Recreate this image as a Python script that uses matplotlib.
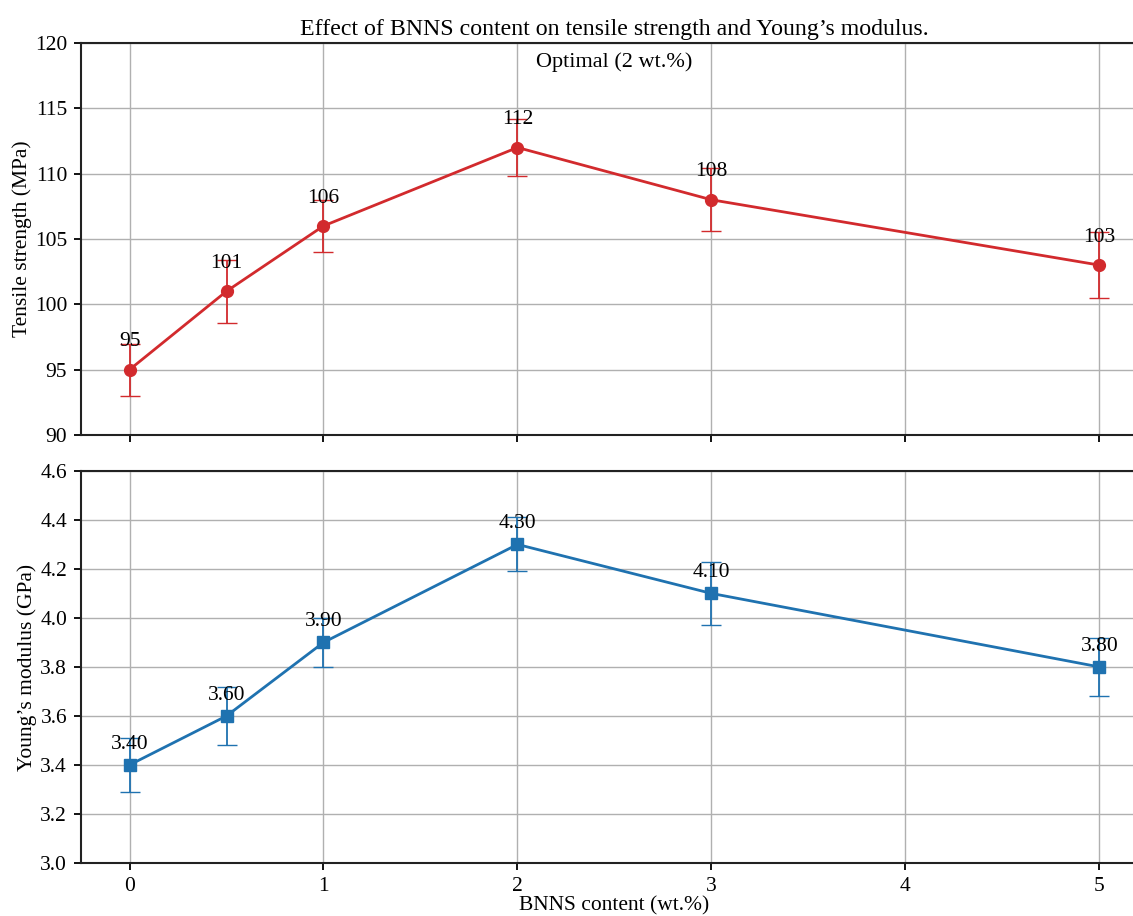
import matplotlib
matplotlib.use("Agg")
import matplotlib.pyplot as plt

plt.rcParams['font.family'] = ['Liberation Serif', 'DejaVu Serif']
plt.rcParams['font.size'] = 15.5

# BNNS loading (wt.%)
content = [0, 0.5, 1, 2, 3, 5]

# tensile strength (MPa) and its spread
strength = [95, 101, 106, 112, 108, 103]
strength_err = [2.0, 2.4, 2.0, 2.2, 2.4, 2.5]

# Young's modulus (GPa) and its spread
modulus = [3.40, 3.60, 3.90, 4.30, 4.10, 3.80]
modulus_err = [0.11, 0.12, 0.10, 0.11, 0.13, 0.12]

red = '#d22a2d'
blue = '#1f72b0'

fig = plt.figure(figsize=(11.33, 9.16), dpi=100)
ax1 = fig.add_axes([0.0715, 0.5251, 0.9417, 0.428])
ax2 = fig.add_axes([0.0715, 0.0579, 0.9417, 0.428], sharex=ax1)

for ax in (ax1, ax2):
    ax.grid(True, color='#b0b0b0', linewidth=1.0)
    ax.set_axisbelow(True)
    for s in ax.spines.values():
        s.set_linewidth(1.5)
        s.set_color('#222222')
    ax.tick_params(length=5, width=1.3, pad=5)

# top panel: tensile strength
ax1.errorbar(content, strength, yerr=strength_err, color=red, marker='o',
             markersize=8.5, linewidth=2, capsize=7, elinewidth=1.3)
for x, y in zip(content, strength):
    ax1.text(x, y + 1.4, f"{y}", ha='center', va='bottom')
ax1.set_ylim(90, 120)
ax1.set_yticks(range(90, 121, 5))
ax1.set_ylabel('Tensile strength (MPa)', labelpad=2)
ax1.tick_params(labelbottom=False)
ax1.text(2.5, 118.5, 'Optimal (2 wt.%)', ha='center', va='center', fontsize=16)
ax1.set_title("Effect of BNNS content on tensile strength and Young\u2019s modulus.",
              fontsize=17.2, pad=6)

# bottom panel: Young's modulus
ax2.errorbar(content, modulus, yerr=modulus_err, color=blue, marker='s',
             markersize=8.5, linewidth=2, capsize=7, elinewidth=1.3)
for x, y in zip(content, modulus):
    ax2.text(x, y + 0.045, f"{y:.2f}", ha='center', va='bottom')
ax2.set_ylim(3.0, 4.6)
ax2.set_yticks([3.0, 3.2, 3.4, 3.6, 3.8, 4.0, 4.2, 4.4, 4.6])
ax2.set_ylabel('Young\u2019s modulus (GPa)', labelpad=2)
ax2.set_xlim(-0.25, 5.25)
ax2.set_xticks([0, 1, 2, 3, 4, 5])
ax2.set_xlabel('BNNS content (wt.%)', labelpad=0)

fig.savefig('out.png', dpi=100)
